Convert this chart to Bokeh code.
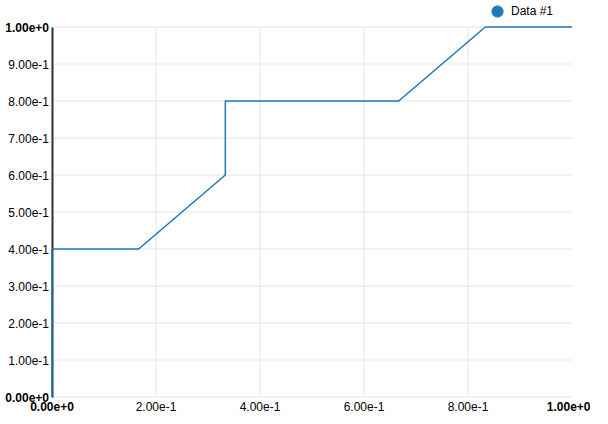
from bokeh.plotting import figure
from bokeh.models import (Range1d, FixedTicker, LinearAxis, Legend, LegendItem)
from bokeh.embed import file_html
from bokeh.resources import INLINE

# data
xs = [0.0, 0.0, 1/6, 1/3, 1/3, 2/3, 5/6, 1.0]
ys = [0.0, 0.4, 0.4, 0.6, 0.8, 0.8, 1.0, 1.0]
series_name = "Data #1"

x_ticks = [0.0, 0.2, 0.4, 0.6, 0.8, 1.0]
x_tick_labels = ["0.00e+0", "2.00e-1", "4.00e-1", "6.00e-1", "8.00e-1", "1.00e+0"]
y_ticks = [0.0, 0.1, 0.2, 0.3, 0.4, 0.5, 0.6, 0.7, 0.8, 0.9, 1.0]
y_tick_labels = ["0.00e+0", "1.00e-1", "2.00e-1", "3.00e-1", "4.00e-1", "5.00e-1",
                 "6.00e-1", "7.00e-1", "8.00e-1", "9.00e-1", "1.00e+0"]

FONT = "Liberation Sans"
BLUE = "#1f77b4"
GRID = "#e5e5e5"

W, H = 590, 416
# plot area in pixels inside the figure
L, R, T, B = 51.5, 571.5, 26.5, 396.5
pw, ph = R - L, B - T

p = figure(width=W, height=H, output_backend="svg", toolbar_location=None,
           x_range=Range1d(-L / pw, (W - L) / pw),
           y_range=Range1d(-(H - B) / ph, 1 + T / ph),
           min_border=0, x_axis_location=None, y_axis_location=None)
p.outline_line_color = None
p.background_fill_color = "white"
p.border_fill_color = "white"
p.xgrid.visible = False
p.ygrid.visible = False

# grid lines limited to the unit square
gx = x_ticks[:-1]
p.segment(x0=gx, y0=[0] * len(gx), x1=gx, y1=[1] * len(gx),
          line_color=GRID, line_width=1, level="underlay")
p.segment(x0=[0] * len(y_ticks), y0=y_ticks, x1=[1] * len(y_ticks), y1=y_ticks,
          line_color=GRID, line_width=1, level="underlay")

overrides_x = {t: l for t, l in zip(x_ticks, x_tick_labels)}
overrides_y = {t: l for t, l in zip(y_ticks, y_tick_labels)}


def make_axis(kind, ticks, bold, overrides):
    ax = LinearAxis(ticker=FixedTicker(ticks=ticks), fixed_location=0,
                    bounds=(0, 1), major_label_overrides=overrides,
                    major_tick_line_color=None, minor_tick_line_color=None,
                    major_tick_out=0, major_tick_in=0,
                    major_label_text_font=FONT,
                    major_label_text_font_size="12px",
                    major_label_text_color="#000000",
                    major_label_text_font_style="bold" if bold else "normal")
    if kind == "x":
        ax.axis_line_color = None
        ax.major_label_standoff = 5
        p.add_layout(ax, "below")
    else:
        ax.major_label_standoff = 3
        if bold:
            ax.axis_line_color = None
        else:
            ax.axis_line_color = "#333333"
            ax.axis_line_width = 2
        p.add_layout(ax, "left")
    return ax


make_axis("y", y_ticks[1:-1], False, overrides_y)
make_axis("y", [y_ticks[0], y_ticks[-1]], True, overrides_y)
make_axis("x", x_ticks[1:-1], False, overrides_x)
make_axis("x", [x_ticks[0], x_ticks[-1]], True, overrides_x)

line = p.line(xs, ys, line_color=BLUE, line_width=1.5, level="overlay")
# legend proxy (not drawn in the plot: a single NaN point)
dot = p.scatter(x=[float("nan")], y=[float("nan")], marker="circle",
                fill_color=BLUE, line_color=BLUE)

legend = Legend(items=[LegendItem(label=series_name, renderers=[dot])],
                location=(483, H - 24.5), glyph_width=28, glyph_height=28,
                label_standoff=0, padding=0, margin=0, spacing=0,
                background_fill_alpha=0, border_line_color=None,
                label_text_font=FONT, label_text_font_size="12px",
                label_text_color="#000000")
p.add_layout(legend, "center")

open("out.html", "w").write(file_html(p, INLINE))
